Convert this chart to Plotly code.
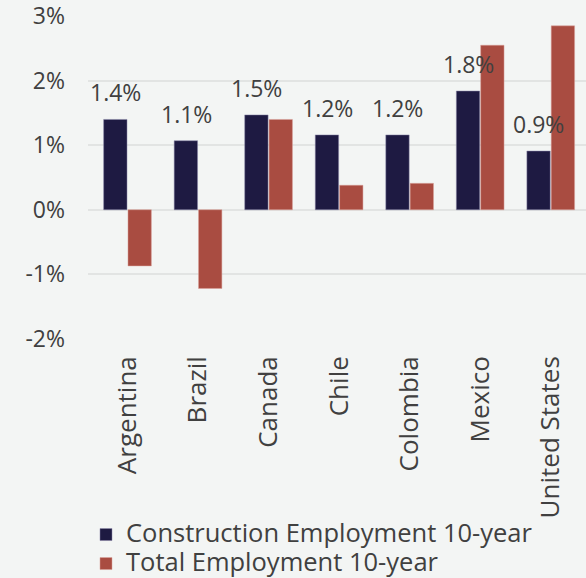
import plotly.graph_objects as go

# countries on the x axis
countries = ["Argentina", "Brazil", "Canada", "Chile", "Colombia", "Mexico", "United States"]
# 10-year growth, percent
construction_10yr = [1.4, 1.07, 1.47, 1.16, 1.16, 1.84, 0.91]
construction_labels = ["1.4%", "1.1%", "1.5%", "1.2%", "1.2%", "1.8%", "0.9%"]
total_10yr = [-0.87, -1.22, 1.40, 0.38, 0.41, 2.55, 2.85]
y_ticks = [-2, -1, 0, 1, 2, 3]
y_tick_labels = ["-2%", "-1%", "0%", "1%", "2%", "3%"]
series_names = ["Construction Employment 10-year", "Total Employment 10-year"]

navy = "#1e1a42"
brick = "#a94c41"
txt = "#404040"
bg = "#f3f5f4"

def legend_name(s):
    # bigger glyphs than the legend row spacing would give on its own
    return '<span style="font-size:25.5px">' + s + '</span>'

fig = go.Figure()
fig.add_trace(go.Bar(x=countries, y=construction_10yr, name=legend_name(series_names[0]),
                     marker=dict(color=navy, line=dict(color="#8a86a8", width=0.5))))
fig.add_trace(go.Bar(x=countries, y=total_10yr, name=legend_name(series_names[1]),
                     marker=dict(color=brick, line=dict(color="#d8a09a", width=0.5))))

# value labels over the construction bars
for c, v, lab in zip(countries, construction_10yr, construction_labels):
    fig.add_annotation(x=c, y=v, text=lab, showarrow=False, xref="x", yref="y",
                       xanchor="center", yanchor="bottom", xshift=-12, yshift=9,
                       font=dict(size=23, color=txt))

fig.update_layout(
    width=586, height=578,
    paper_bgcolor=bg, plot_bgcolor=bg,
    font=dict(family="Open Sans", size=20, color=txt),
    barmode="group", bargap=0.31, bargroupgap=0.04,
    margin=dict(l=88, r=0, t=16, b=239, autoexpand=False),
    showlegend=True,
    legend=dict(orientation="v", x=-0.004, y=-0.545, xanchor="left", yanchor="top",
                font=dict(size=20, color=txt), bgcolor="rgba(0,0,0,0)",
                borderwidth=0, tracegroupgap=0, itemwidth=30),
)
fig.update_yaxes(range=[-2.003, 3.003], tickvals=y_ticks, ticktext=y_tick_labels,
                 tickfont=dict(size=23), showgrid=True, automargin=False,
                 ticklabeloverflow="allow",
                 gridcolor="#e2e4e3", gridwidth=2, zeroline=True, zerolinecolor="#e2e4e3",
                 zerolinewidth=2, ticklabelstandoff=22, showline=False)
fig.update_xaxes(tickangle=-90, tickfont=dict(size=26), showgrid=False, showline=False,
                 ticklabelstandoff=11, automargin=False)

fig.write_html("out.html", config={"displayModeBar": False},
               post_script="document.body.style.margin='0';")
